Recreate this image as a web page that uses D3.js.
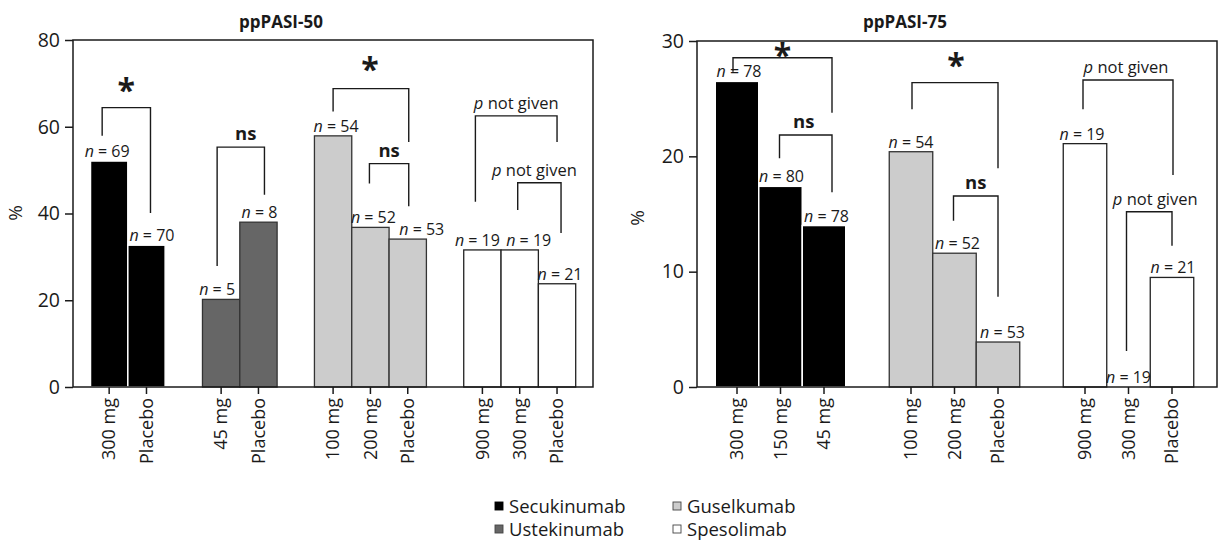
<!DOCTYPE html>
<html><head><meta charset="utf-8">
<script src="https://cdn.jsdelivr.net/npm/d3@7"></script>
<style>
html,body{margin:0;padding:0;background:#fff;}
svg text{font-family:"Open Sans","Noto Sans",sans-serif;fill:#1a1a1a;}
</style></head><body>
<svg id="chart" width="1218" height="543"></svg>
<script>
// ---------- data ----------
const leftTitle = "ppPASI-50";
const leftCategories = ["300 mg","Placebo","45 mg","Placebo","100 mg","200 mg","Placebo","900 mg","300 mg","Placebo"];
const leftDrugs = ["Secukinumab","Secukinumab","Ustekinumab","Ustekinumab","Guselkumab","Guselkumab","Guselkumab","Spesolimab","Spesolimab","Spesolimab"];
const leftValues = [52.1, 32.7, 20.2, 38.0, 57.9, 36.8, 34.1, 31.6, 31.6, 23.8];
const leftN = [69, 70, 5, 8, 54, 52, 53, 19, 19, 21];
const leftTicks = [0, 20, 40, 60, 80];
// brackets: bar indices, label, top / left-leg end / right-leg end (in %)
const leftBrackets = [
  {a:0, b:1, label:"*",  top:64.4, endA:57.9, endB:40.1},
  {a:2, b:3, label:"ns", top:55.3, endA:27.9, endB:44.3},
  {a:4, b:6, label:"*",  top:68.8, endA:63.5, endB:56.5},
  {a:5, b:6, label:"ns", top:51.5, endA:46.9, endB:41.7},
  {a:7, b:9, label:"p not given", top:62.5, endA:42.7, endB:56.5},
  {a:8, b:9, label:"p not given", top:47.1, endA:40.8, endB:35.5}
];

const rightTitle = "ppPASI-75";
const rightCategories = ["300 mg","150 mg","45 mg","100 mg","200 mg","Placebo","900 mg","300 mg","Placebo"];
const rightDrugs = ["Secukinumab","Secukinumab","Secukinumab","Guselkumab","Guselkumab","Guselkumab","Spesolimab","Spesolimab","Spesolimab"];
const rightValues = [26.5, 17.4, 14.0, 20.4, 11.6, 3.9, 21.1, 0, 9.5];
const rightN = [78, 80, 78, 54, 52, 53, 19, 19, 21];
const rightTicks = [0, 10, 20, 30];
const rightBrackets = [
  {a:0, b:2, label:"*",  top:28.55, endA:27.34, endB:23.78},
  {a:1, b:2, label:"ns", top:21.85, endA:19.83, endB:16.88},
  {a:3, b:5, label:"*",  top:26.39, endA:24.08, endB:18.96},
  {a:4, b:5, label:"ns", top:16.56, endA:14.42, endB:7.83},
  {a:6, b:8, label:"p not given", top:26.62, endA:24.08, endB:18.38},
  {a:7, b:8, label:"p not given", top:15.2, endA:3.12, endB:12.25}
];

const legendItems = ["Secukinumab","Ustekinumab","Guselkumab","Spesolimab"];

// ---------- styles (layout only) ----------
const fillOf = {Secukinumab:"#000000", Ustekinumab:"#666666", Guselkumab:"#cccccc", Spesolimab:"#ffffff"};
const strokeOf = {Secukinumab:"#ffffff", Ustekinumab:"#333333", Guselkumab:"#333333", Spesolimab:"#222222"};

const svg = d3.select("#chart");

function drawPanel(cfg){
  const g = svg.append("g");
  const slots = [];
  cfg.categories.forEach((c,i)=>{
    if(i>0 && cfg.drugs[i]!==cfg.drugs[i-1]) slots.push("gap"+i);
    slots.push(String(i));
  });
  const barSlots = cfg.categories.map((c,i)=>String(i));
  const x = d3.scaleBand().domain(slots).range(cfg.xRange).padding(0);
  const y = d3.scaleLinear().domain([0, cfg.ticks[cfg.ticks.length-1]]).range([cfg.bottom, cfg.top]);
  const cx = i => x(String(i)) + x.bandwidth()/2;

  // bars
  g.selectAll("rect.bar").data(cfg.values).join("rect")
    .attr("class","bar")
    .attr("x",(d,i)=>x(String(i)))
    .attr("width",x.bandwidth())
    .attr("y",d=>y(d))
    .attr("height",d=>y(0)-y(d))
    .attr("fill",(d,i)=>fillOf[cfg.drugs[i]])
    .attr("stroke",(d,i)=>strokeOf[cfg.drugs[i]])
    .attr("stroke-width",(d,i)=>cfg.drugs[i]==="Secukinumab"?1.5:1.3);

  // frame
  g.append("rect")
    .attr("x",cfg.axisX).attr("y",cfg.top)
    .attr("width",cfg.rightX-cfg.axisX).attr("height",cfg.bottom-cfg.top)
    .attr("fill","none").attr("stroke","#1a1a1a").attr("stroke-width",1.5);

  // y axis
  const ya = g.append("g").attr("transform",`translate(${cfg.axisX},0)`)
    .call(d3.axisLeft(y).tickValues(cfg.ticks).tickSize(8).tickPadding(5).tickFormat(d3.format("d")));
  ya.select(".domain").remove();
  ya.selectAll(".tick line").attr("stroke","#1a1a1a").attr("stroke-width",1.5);
  ya.selectAll(".tick text").attr("font-size",19.5).attr("font-family","Open Sans").attr("fill","#1a1a1a");

  // x axis
  const xa = g.append("g").attr("transform",`translate(0,${cfg.bottom})`)
    .call(d3.axisBottom(x).tickValues(barSlots).tickSize(7).tickFormat(d=>cfg.categories[+d]));
  xa.select(".domain").remove();
  xa.selectAll(".tick line").attr("stroke","#1a1a1a").attr("stroke-width",1.5);
  xa.selectAll(".tick text")
    .attr("font-size",18).attr("font-family","Open Sans").attr("fill","#1a1a1a")
    .attr("text-anchor","end")
    .attr("transform","rotate(-90)")
    .attr("x",-11).attr("y",0).attr("dy","0.35em");

  // n labels
  const nl = g.selectAll("text.nlab").data(cfg.n).join("text")
    .attr("class","nlab")
    .attr("x",(d,i)=>cx(i)+cfg.labelDx[i])
    .attr("y",(d,i)=>y(cfg.values[i])-4)
    .attr("text-anchor","middle")
    .attr("font-size",16);
  nl.append("tspan").attr("font-style","italic").text("n");
  nl.append("tspan").text(d=>" = "+d);

  // brackets
  cfg.brackets.forEach((b,k)=>{
    const xa_ = cx(b.a)+cfg.bracketDx[k][0], xb_ = cx(b.b)+cfg.bracketDx[k][1];
    g.append("path")
      .attr("d",`M${xa_},${y(b.endA)}V${y(b.top)}H${xb_}V${y(b.endB)}`)
      .attr("fill","none").attr("stroke","#1a1a1a").attr("stroke-width",1.4);
    const mx = (xa_+xb_)/2 + cfg.bracketDx[k][2];
    const t = g.append("text").attr("x",mx).attr("text-anchor","middle");
    if(b.label==="*"){
      t.attr("y",y(b.top)+cfg.bracketDx[k][3]).attr("font-size",32).attr("font-weight","bold").text("*");
    } else if(b.label==="ns"){
      t.attr("y",y(b.top)-7).attr("font-size",18.5).attr("font-weight","bold").text("ns");
    } else {
      t.attr("y",y(b.top)-7).attr("font-size",16.5);
      t.append("tspan").attr("font-style","italic").text("p");
      t.append("tspan").text(" not given");
    }
  });

  // title
  g.append("text").attr("x",cfg.titleX).attr("y",28).attr("text-anchor","middle")
    .attr("font-size",17).attr("font-weight","bold").text(cfg.title);
  // y label
  g.append("text").attr("transform",`translate(${cfg.pctX},${cfg.pctY}) rotate(-90)`)
    .attr("text-anchor","middle").attr("font-size",19).text("%");
}

drawPanel({
  title:leftTitle, categories:leftCategories, drugs:leftDrugs, values:leftValues, n:leftN,
  ticks:leftTicks, brackets:leftBrackets,
  xRange:[90.5,575.7], axisX:73, rightX:593, top:40, bottom:387,
  labelDx:[-2,5.5,-4,1,3,3,14,-5,9,3],
  bracketDx:[[-7,4,0,-6],[-4,6,5,0],[0,1,-1,-8],[-1,1,0,0],[-7,0,0,0],[-2,4,-5,0]],
  titleX:281, pctX:22, pctY:213
});
drawPanel({
  title:rightTitle, categories:rightCategories, drugs:rightDrugs, values:rightValues, n:rightN,
  ticks:rightTicks, brackets:rightBrackets,
  xRange:[715.25,1193.75], axisX:697, rightX:1217, top:41, bottom:387,
  labelDx:[2,1,2.5,0,3,4.5,-3,0,1],
  bracketDx:[[-4,8,0,9],[-1,8,-2,0],[1,0,1,-6],[-1,0,0,0],[-2,1,-2,0],[-2,0,6,0]],
  titleX:905, pctX:644, pctY:218
});

// legend
const legPos = [[495,513],[495,536],[673,513],[673,536]];
const lg = svg.append("g");
legendItems.forEach((name,i)=>{
  const [lx,ly] = legPos[i];
  lg.append("rect").attr("x",lx).attr("y",ly-11).attr("width",8).attr("height",8)
    .attr("fill",fillOf[name]).attr("stroke",name==="Secukinumab"?"#000":"#444").attr("stroke-width",0.9);
  lg.append("text").attr("x",lx+14).attr("y",ly).attr("font-size",18.5).text(name);
});
</script></body></html>
